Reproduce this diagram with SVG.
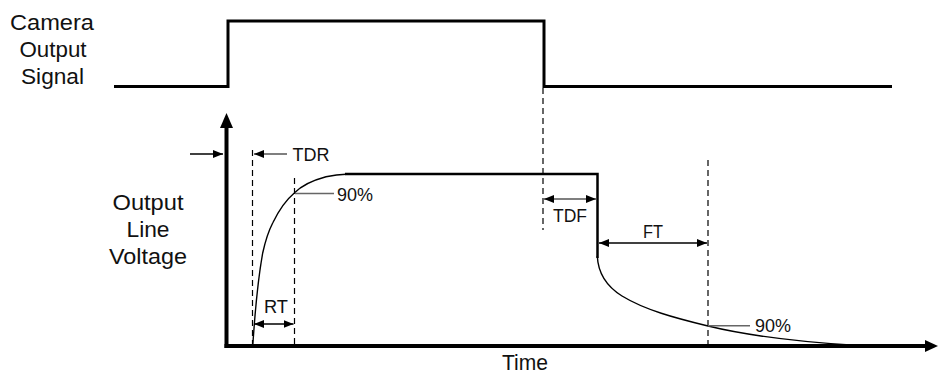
<svg xmlns="http://www.w3.org/2000/svg" width="938" height="374" viewBox="0 0 938 374">
<style>
text{font-family:"Liberation Sans",Arial,sans-serif;fill:#111}
.big{font-size:22px;text-anchor:middle}
.sm{font-size:18px;text-anchor:middle}
.sig{fill:none;stroke:#000;stroke-width:3}
.curve{fill:none;stroke:#000;stroke-width:1.4}
.plat{fill:none;stroke:#000;stroke-width:2.5}
.dash{fill:none;stroke:#000;stroke-width:1.2;stroke-dasharray:6 4}
.dim{fill:none;stroke:#000;stroke-width:1.3}
.dimg{fill:none;stroke:#555;stroke-width:1.6}
.lead{fill:none;stroke:#666;stroke-width:1.6}
</style>
<defs>
<marker id="ah" viewBox="0 0 10 8" refX="10" refY="4" markerWidth="10" markerHeight="8" markerUnits="userSpaceOnUse" orient="auto-start-reverse">
<path d="M0,0 L10,4 L0,8 z" fill="#000"/>
</marker>
</defs>
<rect width="938" height="374" fill="#fff"/>
<g id="labels">
<text class="big" x="52" y="30" textLength="84" lengthAdjust="spacingAndGlyphs">Camera</text>
<text class="big" x="53" y="57" textLength="67" lengthAdjust="spacingAndGlyphs">Output</text>
<text class="big" x="52.5" y="84" textLength="63" lengthAdjust="spacingAndGlyphs">Signal</text>
<text class="big" x="148" y="210" textLength="71" lengthAdjust="spacingAndGlyphs">Output</text>
<text class="big" x="148" y="237" textLength="43" lengthAdjust="spacingAndGlyphs">Line</text>
<text class="big" x="148" y="264" textLength="78" lengthAdjust="spacingAndGlyphs">Voltage</text>
<text class="big" x="525" y="370" textLength="46" lengthAdjust="spacingAndGlyphs">Time</text>
</g>
<g id="camera-signal">
<path class="sig" d="M114,86.5 H228 V21 H544 V86.5 H892"/>
</g>
<g id="axes">
<line x1="226.5" y1="348" x2="226.5" y2="126" stroke="#000" stroke-width="4"/>
<polygon points="226.5,113 220,128 233,128" fill="#000"/>
<line x1="224.5" y1="346" x2="926" y2="346" stroke="#000" stroke-width="4"/>
<polygon points="938,346 925,340 925,352" fill="#000"/>
</g>
<g id="voltage">
<path class="curve" d="M252.7,346 C254,330 256,290 262.7,253 C266,238 268,232 272.7,223 C278,212 286,200 294.3,193 C300,187 310,181 326,176.7 C334,175 340,174.3 346,174.2 L360,174"/>
<path class="plat" d="M345,174 H597.5 V258"/>
<path class="curve" d="M597.3,256 C598,272 606,286 622,296 C645,310 675,318 708,326 C745,335 790,341 850,345"/>
</g>
<g id="guides">
<line class="dash" x1="252.5" y1="150" x2="252.5" y2="346"/>
<line class="dash" x1="294.5" y1="178" x2="294.5" y2="346"/>
<line class="dash" x1="543" y1="88" x2="543" y2="230"/>
<line class="dash" x1="708" y1="160" x2="708" y2="346"/>
</g>
<g id="dimensions">
<line class="dim" x1="190" y1="154" x2="223" y2="154" marker-end="url(#ah)"/>
<line class="dimg" x1="287" y1="154" x2="254" y2="154" marker-end="url(#ah)"/>
<text class="sm" x="311" y="161" textLength="37" lengthAdjust="spacingAndGlyphs">TDR</text>
<line class="lead" x1="295" y1="193.5" x2="334" y2="193.5"/>
<text class="sm" x="355" y="201" textLength="36" lengthAdjust="spacingAndGlyphs">90%</text>
<line class="dim" x1="254" y1="324" x2="293.5" y2="324" marker-start="url(#ah)" marker-end="url(#ah)"/>
<text class="sm" x="276" y="313" textLength="24" lengthAdjust="spacingAndGlyphs">RT</text>
<line class="dimg" x1="544" y1="199" x2="596" y2="199" marker-start="url(#ah)" marker-end="url(#ah)"/>
<text class="sm" x="570" y="222" textLength="34" lengthAdjust="spacingAndGlyphs">TDF</text>
<line class="dim" x1="599" y1="243" x2="707" y2="243" marker-start="url(#ah)" marker-end="url(#ah)"/>
<text class="sm" x="653" y="238" textLength="20" lengthAdjust="spacingAndGlyphs">FT</text>
<line class="lead" x1="708" y1="325.7" x2="750" y2="325.7"/>
<text class="sm" x="773" y="332" textLength="36" lengthAdjust="spacingAndGlyphs">90%</text>
</g>
</svg>
